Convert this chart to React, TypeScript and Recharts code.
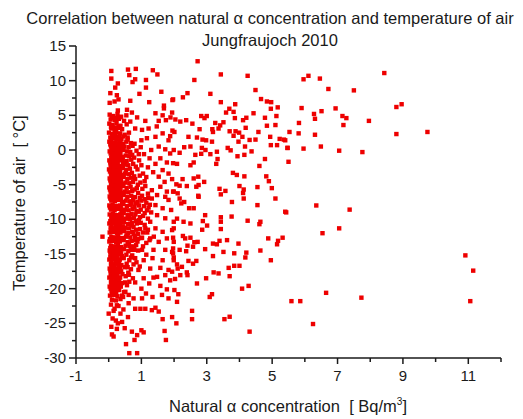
import { Scatter, ScatterChart, XAxis, YAxis } from "recharts";

// tick positions and which of them carry a label
const xTicks = [-1, 0, 1, 2, 3, 4, 5, 6, 7, 8, 9, 10, 11, 12];
const xTickLabels = [-1, 1, 3, 5, 7, 9, 11];
const yTicks = [-30, -27.5, -25, -22.5, -20, -17.5, -15, -12.5, -10, -7.5, -5, -2.5, 0, 2.5, 5, 7.5, 10, 12.5, 15];
const yTickLabels = [-30, -25, -20, -15, -10, -5, 0, 5, 10, 15];

// [concentration Bq/m3, temperature °C]
const coreUpper: [number, number][] = [
  [0.03, 5.1], [0.14, 4.9], [0.27, 5.2], [0.38, 4.8],
  [0.06, 4.4], [0.19, 4.3], [0.31, 4.5], [0.47, 4.2],
  [0.02, 3.8], [0.12, 3.6], [0.24, 3.9], [0.36, 3.5], [0.55, 3.7],
  [0.08, 3.1], [0.18, 2.9], [0.29, 3.2], [0.41, 3.0],
  [0.01, 2.5], [0.13, 2.3], [0.23, 2.6], [0.35, 2.4], [0.49, 2.2], [0.62, 2.5],
  [0.05, 1.8], [0.17, 1.7], [0.28, 1.9], [0.39, 1.6], [0.58, 1.8],
  [0.02, 1.2], [0.11, 1.0], [0.21, 1.1], [0.33, 1.3], [0.44, 0.9], [0.54, 1.2], [0.68, 1.0],
  [0.07, 0.5], [0.16, 0.4], [0.26, 0.6], [0.37, 0.3], [0.48, 0.5], [0.61, 0.4], [0.73, 0.6],
  [0.03, -0.2], [0.14, -0.1], [0.24, -0.3], [0.34, -0.2], [0.45, 0.0], [0.56, -0.2], [0.66, -0.3], [0.85, -0.1],
  [0.09, -0.8], [0.19, -0.9], [0.3, -0.7], [0.41, -1.0], [0.52, -0.8], [0.63, -0.9], [0.72, -0.7],
  [0.02, -1.5], [0.12, -1.4], [0.22, -1.6], [0.33, -1.5], [0.43, -1.3], [0.55, -1.6], [0.69, -1.4], [0.93, -1.5],
  [0.06, -2.1], [0.17, -2.2], [0.27, -2.0], [0.38, -2.3], [0.49, -2.1], [0.6, -2.2], [0.75, -2.0],
  [0.01, -2.8], [0.11, -2.7], [0.21, -2.9], [0.32, -2.8], [0.44, -2.6], [0.53, -2.9], [0.65, -2.7], [0.88, -2.8],
  [0.07, -3.4], [0.18, -3.5], [0.28, -3.3], [0.39, -3.6], [0.5, -3.4], [0.62, -3.5], [0.71, -3.3], [1.05, -3.4],
  [0.03, -4.1], [0.13, -4.0], [0.24, -4.2], [0.35, -4.1], [0.46, -3.9], [0.57, -4.2], [0.68, -4.0], [0.81, -4.2],
  [0.08, -4.7], [0.19, -4.8], [0.29, -4.6], [0.4, -4.9], [0.51, -4.7], [0.63, -4.8], [0.74, -4.6], [0.97, -4.7],
  [0.02, -5.4], [0.12, -5.3], [0.22, -5.5], [0.33, -5.4], [0.45, -5.2], [0.55, -5.5], [0.67, -5.3], [0.86, -5.5], [1.12, -5.2],
  [0.06, -6.0], [0.17, -6.1], [0.27, -5.9], [0.38, -6.2], [0.49, -6.0], [0.6, -6.1], [0.72, -5.9], [0.9, -6.2],
];

const coreMiddle: [number, number][] = [
  [0.03, -6.7], [0.14, -6.6], [0.24, -6.8], [0.35, -6.7], [0.46, -6.5], [0.57, -6.8], [0.69, -6.6], [0.8, -6.8], [1.02, -6.6], [1.21, -6.9],
  [0.08, -7.3], [0.19, -7.4], [0.3, -7.2], [0.41, -7.5], [0.52, -7.3], [0.64, -7.4], [0.75, -7.2], [0.88, -7.5], [1.0, -7.3], [1.15, -7.6],
  [0.02, -8.0], [0.12, -7.9], [0.23, -8.1], [0.34, -8.0], [0.45, -7.8], [0.56, -8.1], [0.67, -7.9], [0.79, -8.2], [0.93, -8.0], [1.08, -8.1], [1.26, -7.9],
  [0.07, -8.6], [0.18, -8.7], [0.28, -8.5], [0.39, -8.8], [0.5, -8.6], [0.61, -8.7], [0.73, -8.5], [0.85, -8.8], [0.98, -8.6], [1.17, -8.7],
  [0.03, -9.3], [0.13, -9.2], [0.24, -9.4], [0.35, -9.3], [0.46, -9.1], [0.58, -9.4], [0.7, -9.2], [0.82, -9.3], [1.05, -9.5],
  [0.09, -9.9], [0.2, -10.0], [0.31, -9.8], [0.42, -10.1], [0.53, -9.9], [0.65, -10.0], [0.77, -9.8], [0.92, -10.1],
  [0.02, -10.6], [0.12, -10.5], [0.23, -10.7], [0.34, -10.6], [0.47, -10.4], [0.59, -10.7], [0.71, -10.5], [0.86, -10.6], [1.1, -10.8],
  [0.06, -11.2], [0.17, -11.3], [0.27, -11.1], [0.38, -11.4], [0.5, -11.2], [0.62, -11.3], [0.76, -11.1], [0.96, -11.4],
  [0.03, -11.9], [0.14, -11.8], [0.25, -12.0], [0.36, -11.9], [0.48, -11.7], [0.6, -12.0], [0.72, -11.8], [0.9, -12.1], [1.18, -11.9],
  [0.08, -12.5], [0.19, -12.6], [0.29, -12.4], [0.41, -12.7], [0.53, -12.5], [0.66, -12.6], [0.8, -12.4], [1.0, -12.7], [1.38, -12.5],
  [0.02, -13.2], [0.12, -13.1], [0.23, -13.3], [0.34, -13.2], [0.46, -13.0], [0.58, -13.3], [0.7, -13.1], [0.88, -13.2], [1.15, -13.4],
  [0.07, -13.8], [0.17, -13.9], [0.28, -13.7], [0.39, -14.0], [0.52, -13.8], [0.65, -13.9], [0.84, -13.7],
];

const coreLower: [number, number][] = [
  [0.03, -14.5], [0.13, -14.4], [0.24, -14.6], [0.35, -14.5], [0.47, -14.3], [0.6, -14.6], [0.78, -14.4],
  [0.08, -15.1], [0.19, -15.2], [0.29, -15.0], [0.4, -15.3], [0.54, -15.1], [0.72, -15.2],
  [0.02, -15.8], [0.12, -15.7], [0.23, -15.9], [0.34, -15.8], [0.46, -15.6], [0.63, -15.9],
  [0.07, -16.4], [0.18, -16.5], [0.28, -16.3], [0.39, -16.6], [0.55, -16.4], [0.76, -16.5],
  [0.03, -17.1], [0.13, -17.0], [0.24, -17.2], [0.35, -17.1], [0.49, -16.9], [0.68, -17.2],
  [0.08, -17.7], [0.19, -17.8], [0.3, -17.6], [0.42, -17.9], [0.6, -17.7],
  [0.02, -18.4], [0.12, -18.3], [0.23, -18.5], [0.35, -18.4], [0.52, -18.2], [0.74, -18.5],
  [0.07, -19.0], [0.18, -19.1], [0.29, -18.9], [0.41, -19.2], [0.63, -19.0],
  [0.03, -19.7], [0.14, -19.6], [0.25, -19.8], [0.37, -19.7], [0.56, -19.5],
  [0.09, -20.3], [0.2, -20.4], [0.32, -20.2], [0.47, -20.5],
  [0.04, -21.0], [0.16, -20.9], [0.27, -21.1], [0.44, -21.2],
  [0.1, -21.6], [0.22, -21.7], [0.36, -21.5],
  [0.07, -22.3], [0.25, -22.4],
  [0.15, -23.2], [0.36, -23.6], [0.12, -24.3], [0.45, -23.0], [0.22, -24.6],
];

// the densest column, between the rows above
const coreFill: [number, number][] = [
  [0.09, 4.65], [0.22, 4.6], [0.33, 4.7],
  [0.07, 3.35], [0.19, 3.25], [0.31, 3.4],
  [0.1, 2.05], [0.2, 2.1], [0.33, 2.0], [0.45, 1.95],
  [0.08, 1.45], [0.24, 1.5], [0.36, 1.4],
  [0.05, 0.8], [0.17, 0.75], [0.29, 0.85], [0.4, 0.7],
  [0.09, 0.15], [0.2, 0.1], [0.31, 0.2], [0.42, 0.1],
  [0.06, -0.5], [0.15, -0.55], [0.25, -0.45], [0.36, -0.6],
  [0.08, -1.15], [0.18, -1.2], [0.28, -1.1], [0.38, -1.25],
  [0.05, -1.8], [0.16, -1.85], [0.27, -1.75], [0.44, -1.9],
  [0.07, -2.45], [0.16, -2.5], [0.26, -2.4], [0.37, -2.55],
  [0.04, -3.1], [0.14, -3.15], [0.24, -3.05], [0.35, -3.2],
  [0.08, -3.75], [0.19, -3.8], [0.3, -3.7], [0.42, -3.85],
  [0.05, -4.4], [0.16, -4.45], [0.26, -4.35], [0.37, -4.5],
  [0.07, -5.05], [0.17, -5.1], [0.28, -5.0], [0.39, -5.15],
  [0.04, -5.7], [0.14, -5.75], [0.25, -5.65], [0.36, -5.8],
  [0.08, -6.35], [0.19, -6.4], [0.3, -6.3], [0.41, -6.45],
  [0.05, -7.0], [0.15, -7.05], [0.26, -6.95], [0.37, -7.1],
  [0.04, -8.3], [0.15, -8.35], [0.26, -8.25], [0.37, -8.4],
  [0.08, -9.6], [0.18, -9.65], [0.29, -9.55], [0.4, -9.7],
  [0.05, -10.25], [0.16, -10.3], [0.27, -10.2], [0.38, -10.35],
  [0.09, -10.9], [0.21, -10.95], [0.31, -10.85], [0.43, -11.0],
  [0.07, -11.55], [0.19, -11.6], [0.3, -11.5], [0.42, -11.65],
  [0.04, -12.85], [0.15, -12.9], [0.26, -12.8], [0.37, -12.95],
  [0.05, -14.15], [0.15, -14.2], [0.26, -14.1], [0.37, -14.25],
  [0.05, -14.8], [0.16, -14.85], [0.27, -14.75], [0.38, -14.9],
  [0.05, -15.45], [0.16, -15.5], [0.27, -15.4],
  [0.09, -16.1], [0.21, -16.15], [0.32, -16.05],
  [0.08, -16.75], [0.18, -16.8], [0.3, -16.7],
  [0.05, -17.4], [0.16, -17.45], [0.26, -17.35], [0.38, -17.5],
  [0.06, -18.05], [0.16, -18.1], [0.27, -18.0],
  [0.09, -18.7], [0.2, -18.75], [0.32, -18.65],
  [0.08, -19.35], [0.2, -19.4], [0.31, -19.3],
  [0.06, -20.0], [0.15, -20.05], [0.26, -19.95],
  [0.1, -20.65], [0.23, -20.7],
];

// the looser band just right of the core
const bandFill: [number, number][] = [
  [0.58, 1.5], [0.79, 0.9], [0.92, -0.6], [0.78, -1.1], [1.0, -2.2], [0.83, -2.4], [0.95, -3.7], [0.78, -3.8],
  [1.15, -3.9], [0.89, -5.0], [1.03, -5.6], [0.79, -5.7], [1.2, -6.3], [0.95, -6.9], [1.1, -7.1], [0.7, -7.7],
  [0.83, -7.7], [1.22, -8.3], [0.92, -8.9], [1.1, -9.1], [0.64, -9.5], [0.96, -9.7], [1.2, -9.9], [0.84, -10.25],
  [0.7, -10.9], [0.98, -10.5], [0.84, -11.5], [1.05, -11.9], [0.55, -12.3], [0.76, -12.1], [0.9, -12.8], [0.62, -13.55],
  [1.05, -13.9], [0.78, -13.9], [0.9, -14.5], [0.68, -15.5], [0.58, -16.9], [0.85, -16.2], [0.62, -18.0], [0.5, -19.1],
  [1.15, -15.1], [0.95, -16.8], [1.25, -13.0], [1.2, -11.5], [1.3, -9.0],
];

const nearScatter: [number, number][] = [
  [0.08, 11.4], [0.08, 10.3], [0.59, 11.6], [0.83, 11.7], [1.35, 11.5], [1.49, 10.9], [0.63, 10.8], [0.81, 10.2],
  [0.73, 9.8], [1.14, 10.1], [0.28, 9.6], [0.2, 9.0], [0.05, 8.2], [0.25, 7.9], [0.3, 7.3], [0.18, 7.0], [0.03, 6.8],
  [0.94, 8.1], [1.14, 9.0], [1.61, 8.4], [0.66, 7.1], [1.24, 6.9], [1.69, 6.4], [1.95, 7.2], [0.28, 5.7], [0.56, 5.8],
  [0.71, 5.4], [0.87, 4.7], [0.54, 5.0], [1.43, 5.3], [1.53, 4.2], [1.69, 6.0], [1.65, 5.0], [1.75, 4.3], [1.89, 4.7],
  [1.12, 4.2], [1.22, 3.1], [1.02, 2.9], [0.81, 3.1], [0.66, 4.1], [1.47, 3.4], [1.65, 2.4], [1.95, 2.8], [1.83, 1.4],
  [1.43, 1.9], [1.17, 1.7], [1.0, 1.4], [1.53, 0.5], [1.73, 0.1], [1.88, -0.5], [1.3, 0.0], [1.58, -1.2], [1.78, -1.8],
  [1.43, -2.0], [1.65, -2.9], [1.83, -3.4], [1.53, -3.85], [1.71, -4.6], [1.94, -4.2], [1.58, -5.3], [1.78, -6.0],
  [1.48, -6.5], [1.73, -6.75], [1.99, -6.0], [1.08, -0.6], [1.2, -2.5], [1.1, -4.5], [1.32, -5.8], [1.25, -1.2],
  [0.98, 0.4], [1.36, -3.2],
  [-0.19, -12.5], [0.0, -23.6], [0.08, -25.5], [0.1, -26.6], [0.15, -26.9], [0.28, -25.0], [0.25, -25.8], [0.41, -24.8],
  [0.49, -25.7], [0.59, -24.1], [0.53, -28.0], [0.63, -29.3], [0.87, -29.3], [0.79, -27.4], [0.87, -26.7], [0.71, -26.2],
  [1.0, -26.0], [1.07, -26.3], [1.65, -24.4], [1.71, -26.1], [1.75, -27.4], [1.12, -22.9], [1.32, -23.1], [1.43, -22.75],
  [1.53, -23.3], [0.61, -22.1], [0.3, -22.5], [0.18, -22.9], [0.81, -22.9], [0.97, -22.9], [1.02, -21.4], [1.14, -20.7],
  [1.34, -21.2], [1.63, -20.9], [1.83, -21.4], [1.48, -18.3], [1.37, -18.4], [1.73, -18.05], [1.88, -18.8], [1.58, -19.6],
  [1.78, -20.1], [0.81, -19.1], [1.07, -18.5], [1.24, -19.25], [1.0, -20.0], [0.51, -20.45], [0.61, -20.9], [0.76, -21.4],
  [0.41, -21.0], [0.91, -17.3], [1.27, -17.1], [1.58, -17.0], [1.83, -17.3], [1.99, -15.9], [1.65, -15.9], [1.34, -15.6],
  [1.07, -15.9], [0.81, -15.6], [0.69, -14.4], [1.02, -14.4], [1.37, -14.4], [1.73, -14.4], [1.94, -14.7], [1.53, -13.25],
  [1.78, -12.75], [1.27, -12.75], [1.02, -12.65], [0.81, -13.0], [1.94, -11.55], [1.65, -11.8], [1.43, -11.3], [1.12, -11.3],
  [1.73, -9.85], [1.48, -9.4], [1.27, -10.35], [1.91, -8.65], [1.65, -8.4], [1.43, -7.95], [1.83, -7.2], [1.32, -7.0],
  [1.99, -10.35],
];

const midScatter: [number, number][] = [
  [2.72, 12.8], [3.43, 10.9], [4.25, 10.7], [2.62, 10.1], [4.49, 8.65], [3.11, 8.1], [2.41, 8.2], [2.27, 7.6], [1.97, 7.3],
  [3.43, 6.9], [4.66, 7.35], [4.84, 7.0], [4.97, 6.9], [3.87, 6.6], [3.69, 5.95], [3.82, 5.5], [3.59, 5.4], [4.96, 5.95],
  [5.17, 6.15], [3.0, 4.9], [2.83, 4.9], [2.93, 4.6], [1.94, 5.4], [2.04, 4.4], [2.19, 4.1], [2.37, 4.3], [2.56, 3.8],
  [3.26, 3.9], [3.41, 3.55], [3.51, 4.0], [3.86, 4.6], [4.11, 4.3], [4.21, 4.65], [4.43, 5.3], [4.78, 4.65], [4.84, 3.5],
  [5.13, 4.9], [5.1, 3.6], [2.78, 3.0], [3.17, 3.0], [3.19, 2.6], [3.36, 3.1], [3.7, 2.7], [3.88, 2.7], [3.99, 2.5],
  [4.19, 3.2], [4.58, 2.6], [2.01, 2.6], [1.88, 2.0], [2.44, 1.9], [2.7, 1.8], [2.87, 1.5], [2.98, 1.4], [3.16, 1.2],
  [3.82, 2.05], [4.09, 1.9], [4.31, 1.45], [4.49, 1.5], [4.94, 1.9], [5.23, 1.6], [5.36, 1.5], [5.47, 0.3], [4.96, 0.7],
  [5.15, 0.7], [3.97, 1.2], [3.73, -0.05], [3.64, 0.3], [4.17, 0.5], [4.37, -0.2], [4.15, -0.7], [3.94, -0.9], [4.78, -1.3],
  [4.61, -2.3], [3.31, -0.25], [3.33, -1.3], [3.29, -2.0], [3.11, -0.6], [2.83, -0.55], [2.65, -0.7], [2.6, -1.8],
  [2.5, -2.2], [2.85, 0.3], [2.96, 0.0], [2.5, 0.5], [2.31, 0.4], [2.17, -0.4], [1.99, 0.0], [1.97, -1.9], [2.09, -2.0],
  [3.8, -3.3], [3.92, -3.6], [4.15, -3.8], [4.82, -3.8], [4.9, -4.5], [4.55, -5.35], [4.99, -5.5], [4.0, -5.2],
  [4.13, -5.7], [4.11, -6.2], [3.39, -5.6], [3.43, -6.4], [3.57, -5.9], [2.74, -3.85], [2.6, -4.1], [2.92, -4.6],
  [2.75, -5.05], [2.68, -5.3], [2.26, -4.2], [2.07, -4.95], [2.17, -5.15], [2.39, -5.2], [2.74, -6.6], [1.97, -6.0],
  [2.11, -6.25],
  [3.77, -7.5], [4.13, -7.0], [5.1, -7.0], [4.55, -7.95], [5.4, -8.9], [2.17, -7.0], [2.22, -7.7], [2.31, -7.5],
  [2.46, -8.4], [2.6, -8.4], [2.75, -6.75], [2.95, -9.4], [2.88, -10.25], [3.01, -10.9], [2.86, -11.5], [3.43, -9.7],
  [3.43, -10.35], [3.43, -11.4], [3.76, -9.6], [4.25, -10.2], [4.64, -10.35], [4.61, -10.7], [4.88, -12.75], [5.18, -13.1],
  [5.32, -12.65], [5.15, -13.6], [4.96, -15.9], [4.64, -14.5], [4.21, -14.8], [4.18, -15.5], [3.97, -13.5], [3.62, -13.0],
  [3.39, -13.1], [3.31, -13.6], [3.19, -13.5], [3.51, -14.7], [3.84, -14.9], [3.19, -15.3], [3.67, -17.0], [3.84, -16.7],
  [4.0, -16.7], [3.7, -18.2], [3.36, -17.8], [3.21, -17.65], [2.98, -18.5], [4.08, -20.0], [4.28, -19.6], [3.16, -20.8],
  [3.09, -21.2], [2.7, -19.25], [2.95, -14.3], [2.72, -13.25], [2.62, -13.3], [2.58, -13.95], [2.41, -13.8], [2.34, -12.75],
  [2.5, -12.65], [2.27, -12.4], [2.17, -14.4], [2.37, -14.6], [2.44, -16.0], [2.58, -16.4], [2.68, -16.0], [2.09, -16.5],
  [2.11, -17.1], [2.24, -16.85], [2.39, -17.65], [2.41, -18.05], [2.19, -18.05], [2.03, -18.6], [2.01, -20.2], [2.13, -20.8],
  [2.09, -21.9], [2.55, -23.2], [2.55, -24.4], [2.07, -25.0], [1.94, -24.1], [3.54, -24.4], [3.7, -24.05], [4.31, -26.2],
  [2.29, -10.35], [2.5, -10.6], [2.09, -9.9], [1.99, -11.3], [1.97, -12.65], [1.99, -13.25], [1.97, -14.2], [1.97, -14.9],
  [1.99, -15.5], [1.94, -17.55],
];

const farScatter: [number, number][] = [
  [8.43, 11.1], [5.96, 10.2], [6.11, 10.7], [6.46, 10.3], [6.72, 8.8], [7.5, 8.6], [5.9, 6.05], [6.28, 5.2], [6.31, 4.5],
  [6.51, 5.6], [6.94, 6.0], [7.15, 4.9], [7.27, 4.6], [7.18, 3.6], [7.96, 4.2], [8.8, 6.2], [8.96, 6.6], [8.8, 2.3],
  [9.75, 2.6], [5.82, 3.9], [5.53, 2.6], [5.81, 2.4], [6.31, 2.2], [5.47, 0.3], [5.96, 0.2], [6.49, 0.5], [7.05, -0.1],
  [7.76, -0.3], [5.5, -1.7], [5.4, 1.4], [6.35, -8.0], [7.37, -8.6], [5.43, -9.0], [6.54, -12.0], [7.05, -11.3],
  [10.91, -15.2], [11.15, -17.4], [11.06, -21.8], [5.59, -21.8], [5.86, -21.8], [6.65, -20.6], [7.73, -21.3], [6.25, -25.1],
];

const points = [
  ...coreUpper,
  ...coreMiddle,
  ...coreLower,
  ...coreFill,
  ...bandFill,
  ...nearScatter,
  ...midScatter,
  ...farScatter,
].map(([x, y]) => ({ x, y }));

const ink = "#1a1a1a";
const font = "'Liberation Sans', Arial, sans-serif";

function XTick({ x, y, payload }: any) {
  const labeled = xTickLabels.includes(payload.value);
  return (
    <g>
      <line x1={x} y1={y} x2={x} y2={y + (labeled ? 6 : 4)} stroke={ink} strokeWidth={1.5} />
      {labeled && (
        <text x={x} y={y + 23} textAnchor="middle" fontSize={15} fill={ink} fontFamily={font}>
          {payload.value}
        </text>
      )}
    </g>
  );
}

function YTick({ x, y, payload }: any) {
  const labeled = yTickLabels.includes(payload.value);
  return (
    <g>
      <line x1={x} y1={y} x2={x - (labeled ? 7 : 4)} y2={y} stroke={ink} strokeWidth={1.5} />
      {labeled && (
        <text x={x - 10} y={y + 5} textAnchor="end" fontSize={15} fill={ink} fontFamily={font}>
          {payload.value}
        </text>
      )}
    </g>
  );
}

function Dot({ cx, cy }: any) {
  return <rect x={cx - 2.2} y={cy - 2.2} width={4.4} height={4.4} fill="#ee0000" />;
}

export default function App() {
  return (
    <div style={{ position: "absolute", left: 0, top: 0, width: 523, height: 419, background: "#fff", fontFamily: font, color: ink, overflow: "hidden" }}>
      <ScatterChart width={523} height={419} margin={{ top: 46, right: 22, bottom: 0, left: 0 }}>
        <XAxis
          type="number"
          dataKey="x"
          domain={[-1, 12]}
          ticks={xTicks}
          interval={0}
          height={61}
          tickSize={0}
          tickMargin={0}
          tickLine={false}
          axisLine={{ stroke: ink, strokeWidth: 1.5 }}
          tick={<XTick />}
          allowDataOverflow
        />
        <YAxis
          type="number"
          dataKey="y"
          domain={[-30, 15]}
          ticks={yTicks}
          interval={0}
          width={76}
          tickSize={0}
          tickMargin={0}
          tickLine={false}
          axisLine={{ stroke: ink, strokeWidth: 1.5 }}
          tick={<YTick />}
          allowDataOverflow
        />
        <Scatter data={points} shape={<Dot />} isAnimationActive={false} />
      </ScatterChart>
      <div
        style={{
          position: "absolute",
          left: 270,
          top: 7,
          transform: "translateX(-50%)",
          textAlign: "center",
          whiteSpace: "nowrap",
          fontSize: 16.5,
          lineHeight: "22px",
        }}
      >
        Correlation between natural α concentration and temperature of air
        <br />
        Jungfraujoch 2010
      </div>
      <div style={{ position: "absolute", left: 288, top: 406, transform: "translate(-50%, -50%)", whiteSpace: "pre", fontSize: 16.5 }}>
        Natural α concentration  [ Bq/m<sup style={{ fontSize: 10 }}>3</sup>]
      </div>
      <div
        style={{
          position: "absolute",
          left: 19,
          top: 203,
          transform: "translate(-50%, -50%) rotate(-90deg)",
          whiteSpace: "pre",
          fontSize: 16.5,
        }}
      >
        Temperature of air  [ °C]
      </div>
    </div>
  );
}
